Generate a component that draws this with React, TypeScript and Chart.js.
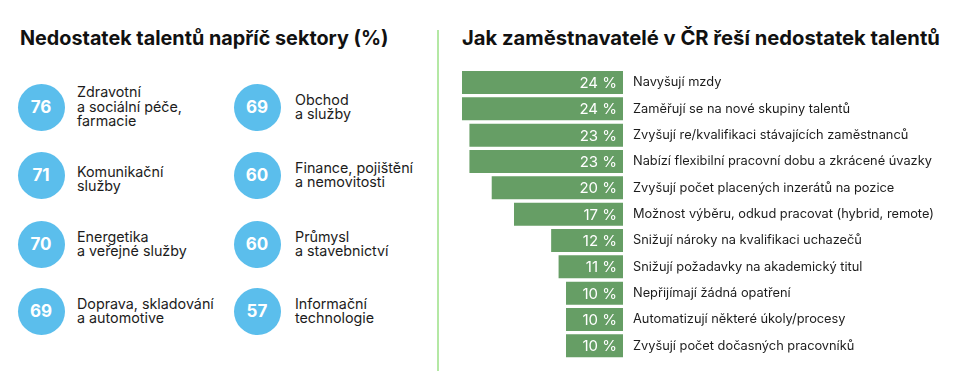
import React, { useEffect, useRef } from "react";
import { Chart, registerables } from "chart.js";

Chart.register(...registerables);

const leftTitle = "Nedostatek talentů napříč sektory (%)";
const rightTitle = "Jak zaměstnavatelé v ČR řeší nedostatek talentů";

const sectorValues = [76, 69, 71, 60, 70, 60, 69, 57];
const sectorLabels = [
  ["Zdravotní", "a sociální péče,", "farmacie"],
  ["Obchod", "a služby"],
  ["Komunikační", "služby"],
  ["Finance, pojištění", "a nemovitosti"],
  ["Energetika", "a veřejné služby"],
  ["Průmysl", "a stavebnictví"],
  ["Doprava, skladování", "a automotive"],
  ["Informační", "technologie"],
];

const measureLabels = [
  "Navyšují mzdy",
  "Zaměřují se na nové skupiny talentů",
  "Zvyšují re/kvalifikaci stávajících zaměstnanců",
  "Nabízí flexibilní pracovní dobu a zkrácené úvazky",
  "Zvyšují počet placených inzerátů na pozice",
  "Možnost výběru, odkud pracovat (hybrid, remote)",
  "Snižují nároky na kvalifikaci uchazečů",
  "Snižují požadavky na akademický titul",
  "Nepřijímají žádná opatření",
  "Automatizují některé úkoly/procesy",
  "Zvyšují počet dočasných pracovníků",
];
const measureValues = [24, 24, 23, 23, 20, 17, 12, 11, 10, 10, 10];

const FONT = "Inter, 'Noto Sans', sans-serif";

const valueLabelPlugin = {
  id: "valueLabels",
  afterDatasetsDraw(chart: any) {
    const ctx = chart.ctx;
    const meta = chart.getDatasetMeta(0);
    const right = chart.chartArea.right;
    ctx.save();
    ctx.fillStyle = "#ffffff";
    ctx.font = `15px ${FONT}`;
    ctx.textAlign = "right";
    ctx.textBaseline = "middle";
    meta.data.forEach((bar: any, i: number) => {
      ctx.fillText(`${measureValues[i]} %`, right - 6, bar.y + 1);
    });
    ctx.restore();
  },
};

function BarChart() {
  const ref = useRef<HTMLCanvasElement>(null);
  useEffect(() => {
    const chart = new Chart(ref.current!, {
      type: "bar",
      data: {
        labels: measureLabels,
        datasets: [
          {
            data: measureValues,
            backgroundColor: "#669e65",
            borderWidth: 0,
            barPercentage: 0.873,
            categoryPercentage: 1,
          },
        ],
      },
      options: {
        indexAxis: "y",
        animation: false,
        responsive: false,
        devicePixelRatio: 1,
        layout: { padding: { left: 22, top: 69.3, bottom: 18, right: 0 } },
        plugins: { legend: { display: false }, tooltip: { enabled: false } },
        scales: {
          x: { display: false, reverse: true, min: 2.33, max: 24 },
          y: {
            position: "right",
            grid: { display: false, drawTicks: false },
            border: { display: false },
            ticks: {
              padding: 10,
              color: "#1c1c1c",
              font: { family: FONT, size: 12.8 },
            },
            afterFit: (scale: any) => {
              scale.width = 330;
            },
          },
        },
      },
      plugins: [valueLabelPlugin],
    } as any);
    return () => chart.destroy();
  }, []);
  return (
    <canvas
      ref={ref}
      width={513}
      height={377}
      style={{ position: "absolute", left: 440, top: 0, width: 513, height: 377 }}
    />
  );
}

const rowCenters = [107, 175, 244, 311];
const colCircleX = [41, 257];
const colTextX = [77, 295];
const textOffsets = [0, 0, 4, 0, 0, 0, 0, 0];

export default function App() {
  return (
    <div
      style={{
        position: "absolute",
        left: 0,
        top: 0,
        width: 953,
        height: 377,
        background: "#ffffff",
        fontFamily: FONT,
        overflow: "hidden",
      }}
    >
      <div
        style={{
          position: "absolute",
          left: 20,
          top: 26,
          fontSize: 19.8,
          fontWeight: 700,
          color: "#111",
          whiteSpace: "nowrap",
          lineHeight: "24px",
        }}
      >
        {leftTitle}
      </div>
      <div
        style={{
          position: "absolute",
          left: 462,
          top: 26,
          fontSize: 20.2,
          fontWeight: 700,
          color: "#111",
          whiteSpace: "nowrap",
          lineHeight: "24px",
        }}
      >
        {rightTitle}
      </div>
      <div
        style={{
          position: "absolute",
          left: 437,
          top: 30,
          width: 2,
          height: 341,
          background: "#b4e8a4",
        }}
      />
      {sectorValues.map((v, i) => {
        const row = Math.floor(i / 2);
        const col = i % 2;
        const cy = rowCenters[row];
        const lines = sectorLabels[i];
        const blockH = lines.length * 14.5;
        return (
          <React.Fragment key={i}>
            <div
              style={{
                position: "absolute",
                left: colCircleX[col] - 23.5,
                top: cy - 23.5,
                width: 47,
                height: 47,
                borderRadius: "50%",
                background: "#5bbeec",
                color: "#fff",
                fontWeight: 700,
                fontSize: 17,
                display: "flex",
                alignItems: "center",
                justifyContent: "center",
              }}
            >
              {v}
            </div>
            <div
              style={{
                position: "absolute",
                left: colTextX[col],
                top: cy - blockH / 2 + textOffsets[i],
                fontSize: 14.3,
                lineHeight: "14.5px",
                color: "#1c1c1c",
                whiteSpace: "nowrap",
              }}
            >
              {lines.map((l, j) => (
                <div key={j}>{l}</div>
              ))}
            </div>
          </React.Fragment>
        );
      })}
      <BarChart />
    </div>
  );
}
